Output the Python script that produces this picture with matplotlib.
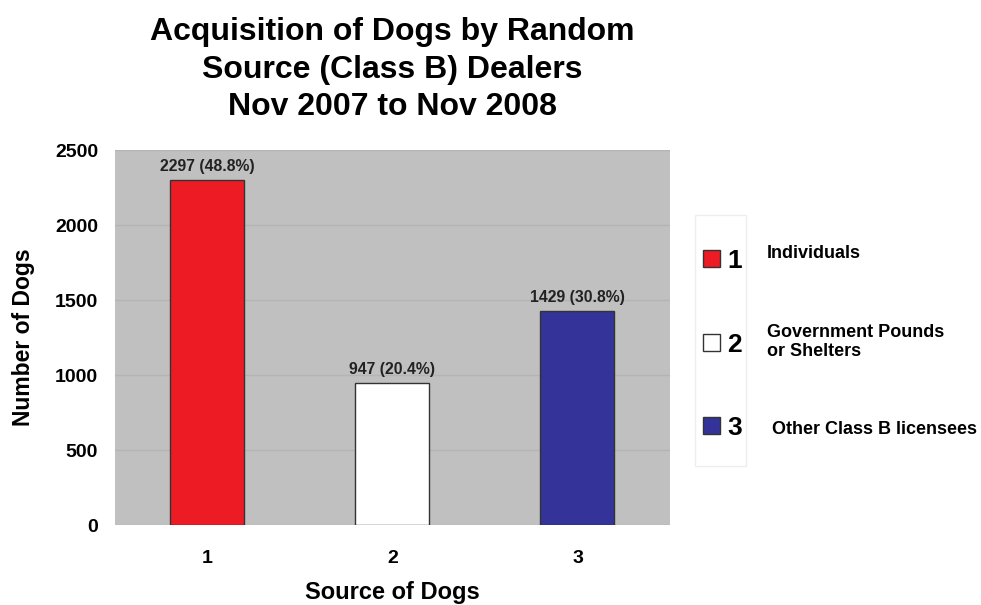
import matplotlib.pyplot as plt
from matplotlib.patches import Rectangle

plt.rcParams['font.family'] = ['Liberation Sans', 'DejaVu Sans']
plt.rcParams['font.weight'] = 'bold'

# data
sources = [1, 2, 3]
counts = [2297, 947, 1429]
percents = [48.8, 20.4, 30.8]
colors = ["#ed1c24", "#ffffff", "#333399"]
legend_names = ["Individuals", "Government Pounds\nor Shelters", "Other Class B licensees"]

fig = plt.figure(figsize=(9.81, 6.05), dpi=100)
ax = fig.add_axes([0.117, 0.132, 0.566, 0.620])
ax.set_facecolor("#c0c0c0")

ax.bar(sources, counts, width=0.4, color=colors, edgecolor="#333333", linewidth=1, zorder=3)
for x, c, p in zip(sources, counts, percents):
    ax.text(x, c + 40, "{0} ({1}%)".format(c, p), ha="center", va="bottom",
            fontsize=11.3, fontweight="bold", color="#222222")

ax.set_xlim(0.5, 3.5)
ax.set_ylim(0, 2500)
ax.set_yticks(range(0, 2501, 500))
ax.set_xticks(sources)
ax.yaxis.grid(True, color="#b4b4b4", linewidth=1, zorder=0)
ax.tick_params(axis="y", length=0, labelsize=14, pad=12)
ax.tick_params(axis="x", length=0, labelsize=14, pad=18)
for lab in ax.get_xticklabels() + ax.get_yticklabels():
    lab.set_fontweight("bold")
for s in ax.spines.values():
    s.set_visible(False)

ax.set_xlabel("Source of Dogs", fontsize=17, fontweight="bold", labelpad=10)
ax.set_ylabel("Number of Dogs", fontsize=16.5, fontweight="bold", labelpad=14)

fig.text(0.40, 0.972, "Acquisition of Dogs by Random\nSource (Class B) Dealers\nNov 2007 to Nov 2008",
         ha="center", va="top", fontsize=23, fontweight="bold", linespacing=1.33)

# legend drawn by hand
W, H = 981, 605
fig.patches.append(Rectangle((695 / W, 1 - 466 / H), 51 / W, 251 / H, transform=fig.transFigure,
                             facecolor="white", edgecolor="#eeeeee", linewidth=1))
ys = [258, 342, 425]
for i in range(3):
    y = ys[i]
    fig.patches.append(Rectangle((703 / W, 1 - (y + 9) / H), 17 / W, 17 / H, transform=fig.transFigure,
                                 facecolor=colors[i], edgecolor="#333333", linewidth=1))
    fig.text(727 / W, 1 - (y + 3) / H, str(sources[i]), ha="left", va="center",
             fontsize=19, fontweight="bold")
fig.text(767 / W, 1 - 254 / H, legend_names[0], ha="left", va="center", fontsize=13, fontweight="bold")
fig.text(767 / W, 1 - 342 / H, legend_names[1], ha="left", va="center", fontsize=13,
         fontweight="bold", linespacing=1.15)
fig.text(772 / W, 1 - 430 / H, legend_names[2], ha="left", va="center", fontsize=13, fontweight="bold")

plt.savefig("out.png", dpi=100)
